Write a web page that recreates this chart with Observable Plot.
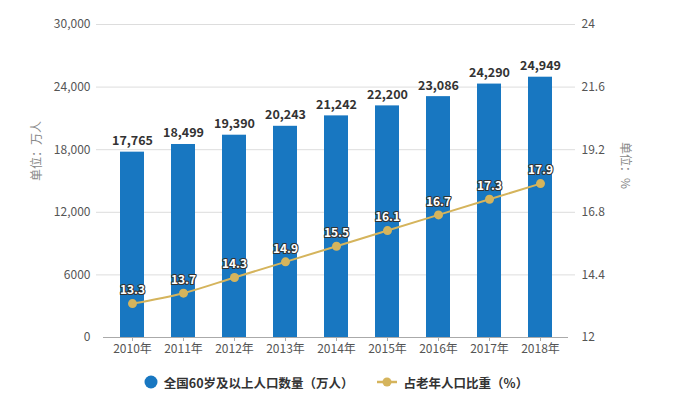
<!DOCTYPE html>
<html><head><meta charset="utf-8">
<script src="https://cdn.jsdelivr.net/npm/d3@7"></script>
<script src="https://cdn.jsdelivr.net/npm/@observablehq/plot@0.6"></script>
<style>
body{margin:0;background:#fff;font-family:"Noto Sans CJK SC","Noto Sans",sans-serif;}
#legend{display:flex;justify-content:center;align-items:center;gap:22px;font-size:12.5px;font-weight:bold;color:#333;height:34px;margin-left:-2px;}
.item{display:flex;align-items:center;gap:6px;}
</style></head><body>
<div id="chart"></div>
<div id="legend"></div>
<script>
const years = ["2010年","2011年","2012年","2013年","2014年","2015年","2016年","2017年","2018年"];
const population = [17765,18499,19390,20243,21242,22200,23086,24290,24949];
const share = [13.3,13.7,14.3,14.9,15.5,16.1,16.7,17.3,17.9];
const leftTicks = [0,6000,12000,18000,24000,30000];
const leftTickLabels = ["0","6000","12,000","18,000","24,000","30,000"];
const rightTicks = [12,14.4,16.8,19.2,21.6,24];
const seriesNames = ["全国60岁及以上人口数量（万人）","占老年人口比重（%）"];
const barColor = "#1877c1";
const lineColor = "#d5b45c";

const right = d3.scaleLinear().domain([12,24]).range([0,30000]);
const data = years.map((y,i)=>({year:y,pop:population[i],share:share[i],shareY:right(share[i])}));

const chart = Plot.plot({
  width:674,height:365,
  marginTop:24,marginBottom:28,marginLeft:96,marginRight:99,
  style:{fontFamily:'"Noto Sans CJK SC","Noto Sans",sans-serif',fontSize:"12px",color:"#555"},
  x:{domain:years,paddingInner:0.534,paddingOuter:0.28,insetLeft:7,insetRight:7,label:null},
  y:{domain:[0,30000],label:null},
  marks:[
    Plot.ruleY(leftTicks.slice(1),{stroke:"#ddd"}),
    Plot.barY(data,{x:"year",y:"pop",fill:barColor}),
    Plot.ruleY([0],{stroke:"#aaa",insetLeft:7,insetRight:7}),
    Plot.axisX({tickSize:4,tickPadding:3,stroke:"#aaa",fill:"#555",fontSize:12,label:null}),
    Plot.axisY({ticks:leftTicks,tickSize:0,tickPadding:6,tickFormat:(d)=>leftTickLabels[leftTicks.indexOf(d)],fill:"#555",fontSize:12,label:null}),
    Plot.axisY({anchor:"right",ticks:rightTicks.map(v=>right(v)),tickSize:0,tickPadding:6,tickFormat:d=>String(+right.invert(d).toFixed(1)),fill:"#555",fontSize:12,label:null}),
    Plot.text(data,{x:"year",y:"pop",text:d=>d3.format(",")(d.pop),dy:-11,fontWeight:"bold",fontSize:12.5,fill:"#333"}),
    Plot.line(data,{x:"year",y:"shareY",stroke:lineColor,strokeWidth:2,curve:"monotone-x"}),
    Plot.dot(data,{x:"year",y:"shareY",r:4.5,fill:lineColor}),
    Plot.text(data,{x:"year",y:"shareY",text:d=>d.share.toFixed(1),dy:-13,fontWeight:"bold",fontSize:12,fill:"#fff",stroke:"#333",strokeWidth:2.2,paintOrder:"stroke"}),
    Plot.text(["单位：万人"],{frameAnchor:"left",dx:-59,rotate:-90,fontSize:12,fill:"#888"}),
    Plot.text(["单位：%"],{frameAnchor:"right",dx:49,dy:8,rotate:90,fontSize:12,fill:"#888"})
  ]
});
document.getElementById("chart").appendChild(chart);

const lg = document.getElementById("legend");
lg.innerHTML = `<div class="item"><svg width="14" height="14"><circle cx="7" cy="7" r="6.5" fill="${barColor}"/></svg><span>${seriesNames[0]}</span></div>
<div class="item"><svg width="22" height="12"><line x1="1" y1="6" x2="21" y2="6" stroke="${lineColor}" stroke-width="2.5"/><circle cx="11" cy="6" r="4.5" fill="${lineColor}"/></svg><span>${seriesNames[1]}</span></div>`;
</script>
</body></html>
